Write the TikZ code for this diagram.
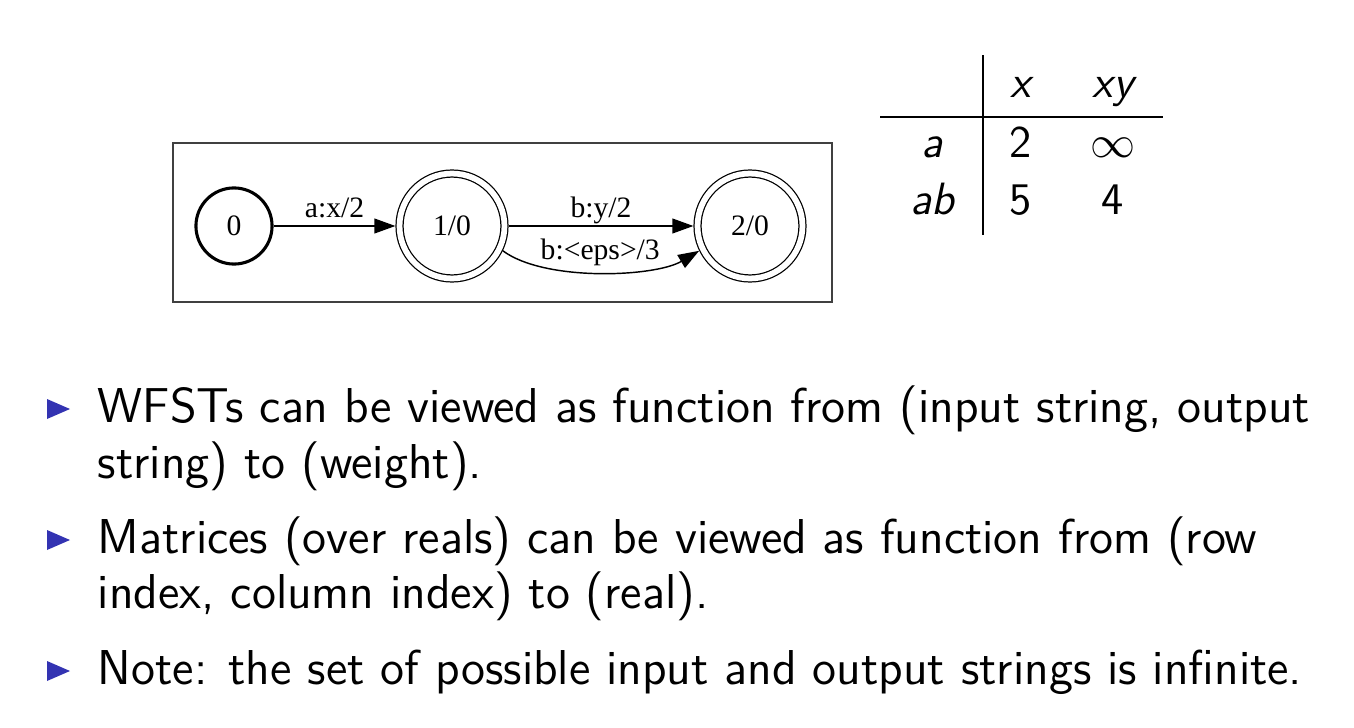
\documentclass[tikz,border=0pt]{standalone}
\usepackage{fontspec}
\usetikzlibrary{arrows.meta}
\newfontfamily\fstfont{Liberation Serif}
\definecolor{structblue}{rgb}{0.2,0.2,0.7}
\definecolor{framegray}{gray}{0.25}
\tikzset{
  body/.style={font=\sffamily\fontsize{11.9}{13.6}\selectfont, inner sep=0pt},
  cell/.style={font=\sffamily\fontsize{11}{13.6}\selectfont, inner sep=0pt, anchor=base},
  state/.style={circle, draw, inner sep=0pt, font=\fstfont\fontsize{7.2}{8}\selectfont},
  initial/.style={state, line width=0.75pt, minimum size=18.5pt},
  accepting/.style={state, line width=0.3pt, double, double distance=1.4pt, minimum size=25.5pt, outer sep=1pt},
  fstedge/.style={line width=0.35pt, -{Triangle[length=5.1pt,width=3.6pt]}},
  elabel/.style={anchor=base, inner sep=0pt, font=\fstfont\fontsize{7.2}{8}\selectfont}
}
\begin{document}
\begin{tikzpicture}[x=0.243pt,y=-0.243pt]
\useasboundingbox (0,0) rectangle (1354,728);
% the transducer
\draw[framegray, line width=0.4pt] (173,143) rectangle (832,302);
\node[initial] (s0) at (234,226) {0};
\node[accepting] (s1) at (452,226) {1/0};
\node[accepting] (s2) at (750,226) {2/0};
\draw[fstedge] (s0) -- node[elabel, yshift=2pt] {a:x/2} (s1);
\draw[fstedge] (s1) -- node[elabel, yshift=2pt] {b:y/2} (s2);
\draw[fstedge] (s1.-26) .. controls (545,282) and (655,277) .. node[elabel, yshift=3.2pt] {b:<eps>/3} (s2.206);
% the table
\draw[line width=0.5pt] (983,55) -- (983,235);
\draw[line width=0.5pt] (880,117) -- (1163,117);
\foreach \px/\py/\entry in {1021/97/{\itshape x}, 1113/97/{\itshape xy},
    932/158/{\itshape a}, 1021/158/2, 1113/158/{$\infty$},
    932/214/{\itshape ab}, 1021/214/5, 1113/214/4}{
  \node[cell] at (\px,\py) {\entry};
}
% bullets
\foreach \by in {422,553,684}{
  \fill[structblue] (47,\by-23) -- (70,\by-13) -- (47,\by-3) -- cycle;
}
\node[body, anchor=base west] (l1) at (97,422) {WFSTs can be viewed as function from (input string, output};
\node[body, anchor=base west] (l2) at (97,478) {string) to (weight).};
\node[body, anchor=base west] (l3) at (97,553) {Matrices (over reals) can be viewed as function from (row};
\node[body, anchor=base west] (l4) at (97,608) {index, column index) to (real).};
\node[body, anchor=base west] (l5) at (97,684) {Note: the set of possible input and output strings is infinite.};
\end{tikzpicture}
\end{document}
